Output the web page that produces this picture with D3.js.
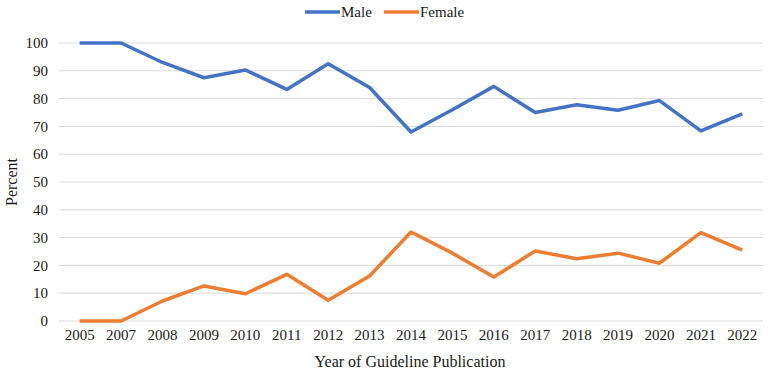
<!DOCTYPE html>
<html>
<head>
<meta charset="utf-8">
<script src="https://cdn.jsdelivr.net/npm/d3@7"></script>
<style>
  body { margin: 0; background: #fff; }
  text { font-family: "Liberation Serif", "DejaVu Serif", serif; fill: #1a1a1a; }
</style>
</head>
<body>
<div class="chart"></div>
<script>
var years = ["2005","2007","2008","2009","2010","2011","2012","2013","2014","2015","2016","2017","2018","2019","2020","2021","2022"];
var male = [100, 100, 93, 87.5, 90.3, 83.3, 92.5, 84, 68, 76, 84.4, 75, 77.8, 75.8, 79.3, 68.4, 74.5];
var female = [0, 0, 7.2, 12.6, 9.8, 16.8, 7.5, 16.2, 32, 24.4, 15.8, 25.2, 22.4, 24.4, 20.8, 31.8, 25.5];
var yTicks = [0, 10, 20, 30, 40, 50, 60, 70, 80, 90, 100];

var div_width = 768, div_height = 373;
var plotLeft = 59, plotRight = 763, plotTop = 43, plotBottom = 321;

var svg = d3.select(".chart").append("svg")
    .attr("width", div_width)
    .attr("height", div_height);

var x = d3.scalePoint().domain(years).range([plotLeft, plotRight]).padding(0.5);
var y = d3.scaleLinear().domain([0, 100]).range([plotBottom, plotTop]);

// gridlines
svg.append("g").selectAll("line")
    .data(yTicks)
    .enter().append("line")
    .attr("x1", plotLeft).attr("x2", plotRight)
    .attr("y1", function (d) { return y(d); })
    .attr("y2", function (d) { return y(d); })
    .attr("stroke", "#d9d9d9")
    .attr("stroke-width", 1);

// y tick labels
svg.append("g").selectAll("text")
    .data(yTicks)
    .enter().append("text")
    .attr("x", 48)
    .attr("y", function (d) { return y(d); })
    .attr("dy", "0.35em")
    .attr("text-anchor", "end")
    .style("font-size", "15px")
    .text(function (d) { return d; });

// x tick labels
svg.append("g").selectAll("text")
    .data(years)
    .enter().append("text")
    .attr("x", function (d) { return x(d); })
    .attr("y", 340)
    .attr("text-anchor", "middle")
    .style("font-size", "15px")
    .text(function (d) { return d; });

// axis titles
svg.append("text")
    .attr("transform", "translate(17," + ((plotTop + plotBottom) / 2) + ") rotate(-90)")
    .attr("text-anchor", "middle")
    .style("font-size", "16px")
    .text("Percent");

svg.append("text")
    .attr("x", 410)
    .attr("y", 367)
    .attr("text-anchor", "middle")
    .style("font-size", "16px")
    .text("Year of Guideline Publication");

var line = d3.line()
    .x(function (d, i) { return x(years[i]); })
    .y(function (d) { return y(d); });

var series = [
    { name: "Male", values: male, color: "#4472C4", lx: 305 },
    { name: "Female", values: female, color: "#ED7D31", lx: 384 }
];

series.forEach(function (s) {
    svg.append("path")
        .datum(s.values)
        .attr("fill", "none")
        .attr("stroke", s.color)
        .attr("stroke-width", 3.5)
        .attr("stroke-linejoin", "round")
        .attr("d", line);

    svg.append("line")
        .attr("x1", s.lx).attr("x2", s.lx + 35)
        .attr("y1", 12).attr("y2", 12)
        .attr("stroke", s.color)
        .attr("stroke-width", 3.5);

    svg.append("text")
        .attr("x", s.lx + 36)
        .attr("y", 12)
        .attr("dy", "0.35em")
        .style("font-size", "15px")
        .text(s.name);
});
</script>
</body>
</html>
